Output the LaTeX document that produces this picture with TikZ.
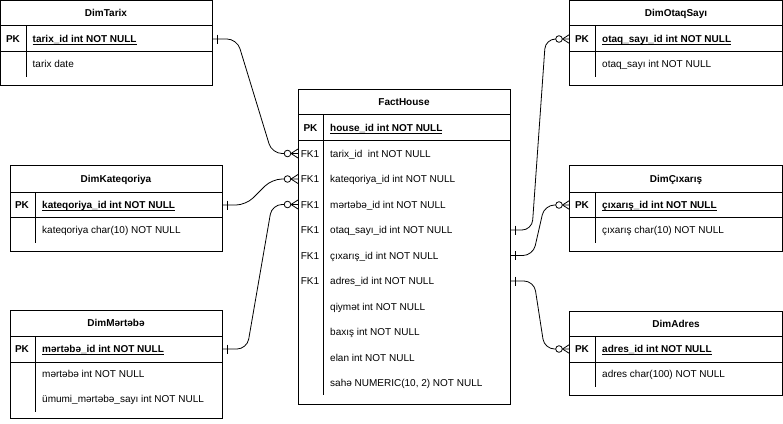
\documentclass[tikz,border=0pt]{standalone}
\usepackage{fontspec}
\setmainfont{Liberation Sans}
\usetikzlibrary{calc}
\newcommand\myul[1]{\leavevmode\setbox0\hbox{#1}\rlap{\vrule width\wd0 height -1.3pt depth 2.1pt}\box0}
\tikzset{
  tbl/.style={draw=black, line width=0.8pt, anchor=north west, inner sep=0pt, outer sep=0pt},
  ttl/.style={font=\fontsize{10}{12}\selectfont\bfseries, inner sep=0pt, text height=7.2pt, text depth=0pt},
  key/.style={font=\fontsize{10}{12}\selectfont\bfseries, inner sep=0pt, text height=7.2pt, text depth=0pt},
  fk/.style={font=\fontsize{10}{12}\selectfont, inner sep=0pt, text height=7.2pt, text depth=0pt},
  fld/.style={font=\fontsize{10}{12}\selectfont, inner sep=0pt, anchor=west, text height=7.2pt, text depth=0pt},
  ln/.style={draw=black, line width=0.8pt},
  rel/.style={draw=black, line width=0.8pt, rounded corners=10pt},
  pics/zmany/.style={code={
    \draw[line width=0.8pt] (-7,0) -- (0,-4.5) (-7,0) -- (0,4.5);
    \draw[line width=0.8pt, fill=white] (-10.5,0) circle (3.3pt);
  }},
  pics/one/.style={code={
    \draw[line width=0.8pt] (5,-4.5) -- (5,4.5);
  }}
}
\begin{document}
\begin{tikzpicture}[x=1pt,y=-1pt]
\useasboundingbox (0,0) rectangle (783,423);

% ---------- DimTarix ----------
\node[tbl, minimum width=211.5pt, minimum height=85pt] (tarix) at (0.5,0.5) {};
\draw[ln] (0.5,25.5) -- (212,25.5) (0.5,51.5) -- (212,51.5) (26,25.5) -- (26,77);
\node[ttl] (tarixT) at (106,13) {DimTarix};
\node[key] (tarixK) at (13,39) {PK};
\node[fld, font=\fontsize{10}{12}\selectfont\bfseries] (tpk) at (32.5,39) {\myul{tarix\_id int NOT NULL}};
\node[fld] (tf1) at (32.5,64) {tarix date};

% ---------- DimOtaqSayı ----------
\node[tbl, minimum width=213pt, minimum height=85pt] (otaq) at (569.5,0.5) {};
\draw[ln] (569.5,25.5) -- (782.5,25.5) (569.5,51.5) -- (782.5,51.5) (595.5,25.5) -- (595.5,77);
\node[ttl] (otaqT) at (676,13) {DimOtaqSayı};
\node[key] (otaqK) at (582,39) {PK};
\node[fld, font=\fontsize{10}{12}\selectfont\bfseries] (opk) at (602,39) {\myul{otaq\_sayı\_id int NOT NULL}};
\node[fld] (of1) at (602,64) {otaq\_sayı int NOT NULL};

% ---------- DimKateqoriya ----------
\node[tbl, minimum width=212pt, minimum height=85.5pt] (kat) at (10,165.5) {};
\draw[ln] (10,192) -- (222,192) (10,217.5) -- (222,217.5) (35.5,192) -- (35.5,243);
\node[ttl] (katT) at (116,178.5) {DimKateqoriya};
\node[key] (katK) at (22,205) {PK};
\node[fld, font=\fontsize{10}{12}\selectfont\bfseries] (kpk) at (42,205) {\myul{kateqoriya\_id int NOT NULL}};
\node[fld] (kf1) at (42,230) {kateqoriya char(10) NOT NULL};

% ---------- DimÇıxarış ----------
\node[tbl, minimum width=213pt, minimum height=85.5pt] (cix) at (569.5,165.5) {};
\draw[ln] (569.5,192) -- (782.5,192) (569.5,217.5) -- (782.5,217.5) (595.5,192) -- (595.5,243);
\node[ttl] (cixT) at (676,178.5) {DimÇıxarış};
\node[key] (cixK) at (582,205) {PK};
\node[fld, font=\fontsize{10}{12}\selectfont\bfseries] (cpk) at (602,205) {\myul{çıxarış\_id int NOT NULL}};
\node[fld] (cf1) at (602,230) {çıxarış char(10) NOT NULL};

% ---------- DimMərtəbə ----------
\node[tbl, minimum width=212pt, minimum height=107.5pt] (mer) at (10,310.5) {};
\draw[ln] (10,336) -- (222,336) (10,362) -- (222,362) (35.5,336) -- (35.5,412);
\node[ttl] (merT) at (116,323) {DimMərtəbə};
\node[key] (merK) at (22,349) {PK};
\node[fld, font=\fontsize{10}{12}\selectfont\bfseries] (mpk) at (42,349) {\myul{mərtəbə\_id int NOT NULL}};
\node[fld] (mf1) at (42,374) {mərtəbə int NOT NULL};
\node[fld] (mf2) at (42,399) {ümumi\_mərtəbə\_sayı int NOT NULL};

% ---------- DimAdres ----------
\node[tbl, minimum width=213pt, minimum height=84pt] (adr) at (569.5,311) {};
\draw[ln] (569.5,336.5) -- (782.5,336.5) (569.5,362) -- (782.5,362) (595.5,336.5) -- (595.5,387);
\node[ttl] (adrT) at (676,324) {DimAdres};
\node[key] (adrK) at (582,349) {PK};
\node[fld, font=\fontsize{10}{12}\selectfont\bfseries] (apk) at (602,349) {\myul{adres\_id int NOT NULL}};
\node[fld] (af1) at (602,374) {adres char(100) NOT NULL};

% ---------- FactHouse ----------
\node[tbl, minimum width=212pt, minimum height=315pt] (fact) at (298,89.5) {};
\draw[ln] (298,114.5) -- (510,114.5) (298,140.5) -- (510,140.5) (323,114.5) -- (323,395);
\node[ttl] (factT) at (404,102) {FactHouse};
\node[key] (factK) at (310.5,128) {PK};
\node[fld, font=\fontsize{10}{12}\selectfont\bfseries] (fpk) at (330,128) {\myul{house\_id int NOT NULL}};
\node[fk] (fk1) at (310,153.5) {FK1};
\node[fk] (fk2) at (310,179) {FK1};
\node[fk] (fk3) at (310,204.5) {FK1};
\node[fk] (fk4) at (310,230) {FK1};
\node[fk] (fk5) at (310,255.5) {FK1};
\node[fk] (fk6) at (310,281) {FK1};
\node[fld] (ftarix) at (330,153.5) {tarix\_id\ \ int NOT NULL};
\node[fld] (fkat) at (330,179) {kateqoriya\_id int NOT NULL};
\node[fld] (fmer) at (330,204.5) {mərtəbə\_id int NOT NULL};
\node[fld] (fotaq) at (330,230) {otaq\_sayı\_id int NOT NULL};
\node[fld] (fcix) at (330,255.5) {çıxarış\_id int NOT NULL};
\node[fld] (fadr) at (330,281) {adres\_id int NOT NULL};
\node[fld] (fq) at (330,306.5) {qiymət int NOT NULL};
\node[fld] (fb) at (330,332) {baxış int NOT NULL};
\node[fld] (fe) at (330,357.5) {elan int NOT NULL};
\node[fld] (fs) at (330,383) {sahə NUMERIC(10, 2) NOT NULL};

% ---------- connectors ----------
\draw[rel] (tarix.east |- tpk) -- ++(25,0) -- ($(fact.west |- ftarix)+(-26,0)$) -- (fact.west |- ftarix);
\draw[rel] (kat.east |- kpk) -- ++(24,0) -- ($(fact.west |- fkat)+(-26,0)$) -- (fact.west |- fkat);
\draw[rel] (mer.east |- mpk) -- ++(25,0) -- ($(fact.west |- fmer)+(-26,0)$) -- (fact.west |- fmer);
\draw[rel] (fact.east |- fotaq) -- ++(22,0) -- ($(otaq.west |- opk)+(-24,0)$) -- (otaq.west |- opk);
\draw[rel] (fact.east |- fcix) -- ++(23,0) -- ($(cix.west |- cpk)+(-25,0)$) -- (cix.west |- cpk);
\draw[rel] (fact.east |- fadr) -- ++(24,0) -- ($(adr.west |- apk)+(-25,0)$) -- (adr.west |- apk);

\pic at (tarix.east |- tpk) {one};
\pic at (kat.east |- kpk) {one};
\pic at (mer.east |- mpk) {one};
\pic at (fact.east |- fotaq) {one};
\pic at (fact.east |- fcix) {one};
\pic at (fact.east |- fadr) {one};
\pic at (fact.west |- ftarix) {zmany};
\pic at (fact.west |- fkat) {zmany};
\pic at (fact.west |- fmer) {zmany};
\pic at (otaq.west |- opk) {zmany};
\pic at (cix.west |- cpk) {zmany};
\pic at (adr.west |- apk) {zmany};
\end{tikzpicture}
\end{document}
